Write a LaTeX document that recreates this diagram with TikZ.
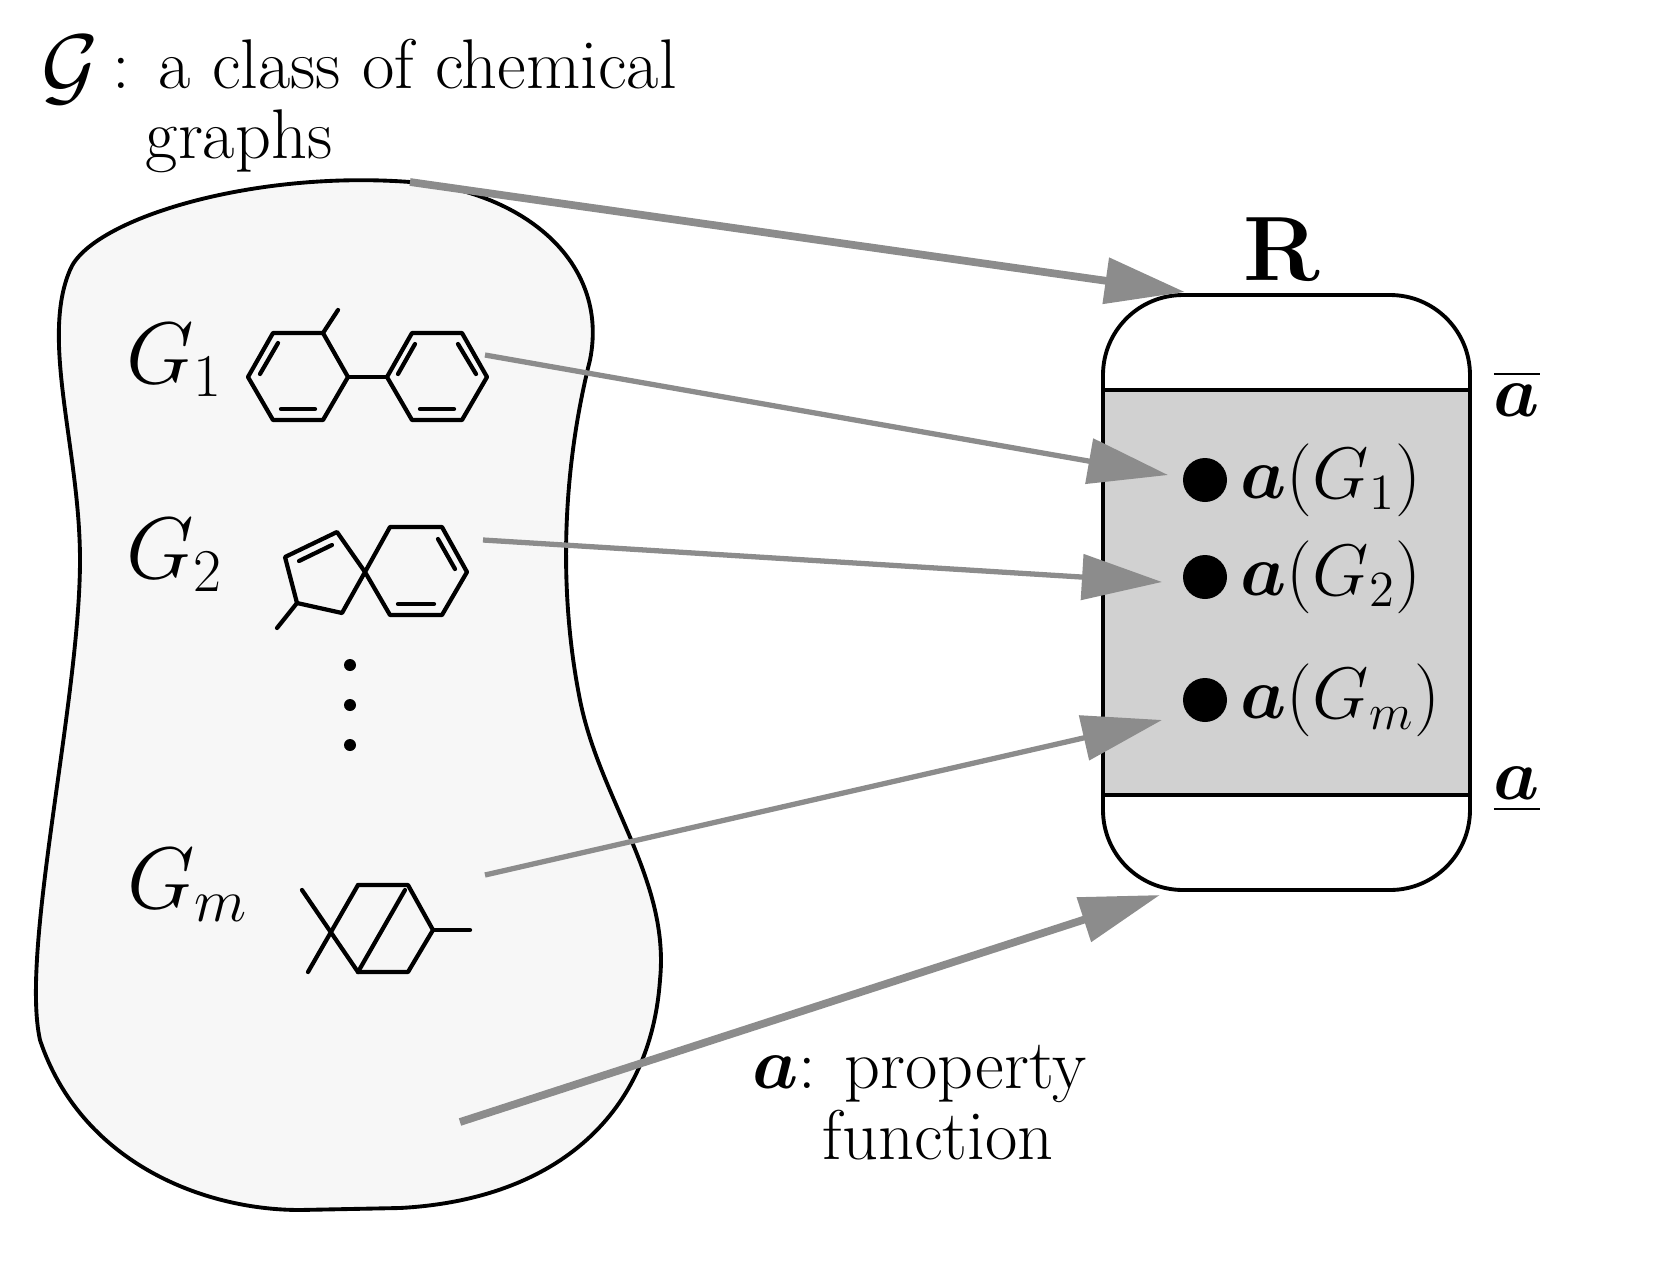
\documentclass[tikz,border=0pt]{standalone}
\usepackage{amsmath}
\usepackage{amssymb}
\usepackage{bm}
\usetikzlibrary{positioning,arrows.meta}
\definecolor{arrgray}{HTML}{8C8C8C}
\tikzset{
  bond/.style={line width=1.2pt, line cap=round, line join=round},
  maparrow/.style={arrgray, line width=1.5pt, -{Triangle[length=0.8cm,width=0.45cm]}},
  thickarrow/.style={maparrow, line width=2.2pt},
  glabel/.style={font=\fontsize{24}{28}\selectfont, inner sep=0pt},
  vlabel/.style={font=\fontsize{20}{24}\selectfont, inner sep=0pt, anchor=west},
}
\begin{document}
\begin{tikzpicture}[x=0.01cm,y=-0.01cm]
    \useasboundingbox (0,0) rectangle (1659,1272);
    % the class of graphs
    \draw[line width=1.1pt, fill=black!3] (410,182) .. controls (250,170) and (90,220) .. (70,270)
       .. controls (40,340) and (80,450) .. (80,560) .. controls (80,700) and (20,950) .. (40,1040)
       .. controls (80,1160) and (200,1210) .. (300,1210) -- (400,1208)
       .. controls (550,1200) and (650,1120) .. (660,980) .. controls (670,880) and (600,800) .. (580,700)
       .. controls (560,600) and (560,480) .. (590,360) .. controls (610,260) and (520,190) .. (410,182);
    \node[inner sep=0pt, font=\fontsize{38}{44}\selectfont] (calG) at (70,70) {$\mathcal{G}$};
    \node[inner sep=0pt, anchor=north west, align=left, font=\fontsize{20}{20}\selectfont] (title) at (112,38)
       {: a class of chemical\\\hspace*{0.33cm}graphs};
    \coordinate (src0) at (410,182);
    \coordinate (srcb) at (460,1122);
    % graph labels
    \node[glabel] (G1) at (175,360) {$G_1$};
    \node[glabel] (G2) at (175,555) {$G_2$};
    \node[glabel] (Gm) at (188,885) {$G_m$};
    \foreach \y [count=\i] in {665,705,745} \fill (350,\y) circle (6) coordinate (dot\i);
    % molecule 1
    \draw[bond] (273,333) -- (323,333) -- (348,377) -- (323,420) -- (273,420) -- (248,377) -- cycle;
    \draw[bond] (323,333) -- (338,310);
    \draw[bond] (348,377) -- (387,377);
    \draw[bond] (412,333) -- (462,333) -- (487,377) -- (462,420) -- (412,420) -- (387,377) -- cycle;
    \draw[bond] (278,343) -- (260,374);
    \draw[bond] (281,409) -- (315,409);
    \draw[bond] (415,344) -- (398,374);
    \draw[bond] (458,344) -- (476,374);
    \draw[bond] (420,409) -- (454,409);
    \coordinate (mol1) at (485,355);
    % molecule 2
    \draw[bond] (365,572) -- (337,532) -- (285,557) -- (297,603) -- (342,613) -- cycle;
    \draw[bond] (297,603) -- (277,628);
    \draw[bond] (365,572) -- (390,527) -- (442,527) -- (467,572) -- (442,615) -- (390,615) -- cycle;
    \draw[bond] (332,545) -- (299,561);
    \draw[bond] (438,539) -- (455,569);
    \draw[bond] (398,604) -- (434,604);
    \coordinate (mol2) at (483,540);
    % molecule m
    \draw[bond] (302,890) -- (358,972);
    \draw[bond] (308,972) -- (358,885);
    \draw[bond] (358,885) -- (408,885) -- (433,930) -- (408,972) -- (358,972);
    \draw[bond] (358,972) -- (405,890);
    \draw[bond] (433,930) -- (470,930);
    \coordinate (molm) at (485,875);
    % the real line R
    \fill[black!18] (1103,390) rectangle (1470,795);
    \draw[line width=1.1pt, rounded corners=0.8cm] (1103,295) rectangle (1470,890);
    \draw[line width=1.1pt] (1103,390) -- (1470,390);
    \draw[line width=1.1pt] (1103,795) -- (1470,795);
    \node[inner sep=0pt, font=\fontsize{26}{30}\selectfont\bfseries] (R) at (1282,250) {R};
    \node[inner sep=0pt, font=\fontsize{20}{24}\selectfont] (amax) at (1517,393) {$\overline{\bm{a}}$};
    \node[inner sep=0pt, font=\fontsize{20}{24}\selectfont] (amin) at (1517,790) {$\underline{\bm{a}}$};
    \coordinate (Rtop) at (1185,292);
    \coordinate (Rbot) at (1160,895);
    \foreach \y/\s [count=\i] in {480/1,577/2,700/m} {
      \fill (1205,\y) circle (22);
      \node[vlabel] (val\i) at (1240,\y) {$\bm{a}(G_\s)$};
    }
    \coordinate (t1) at (1168,475);
    \coordinate (t2) at (1162,582);
    \coordinate (tm) at (1162,720);
    % the property function
    \draw[thickarrow] (src0) -- (Rtop);
    \draw[maparrow] (mol1) -- (t1);
    \draw[maparrow] (mol2) -- (t2);
    \draw[maparrow] (molm) -- (tm);
    \draw[thickarrow] (srcb) -- (Rbot);
    \node[inner sep=0pt, anchor=north west, align=left, font=\fontsize{20}{20}\selectfont] (prop) at (752,1045)
       {$\bm{a}$: property\\\hspace*{0.7cm}function};
\end{tikzpicture}
\end{document}
